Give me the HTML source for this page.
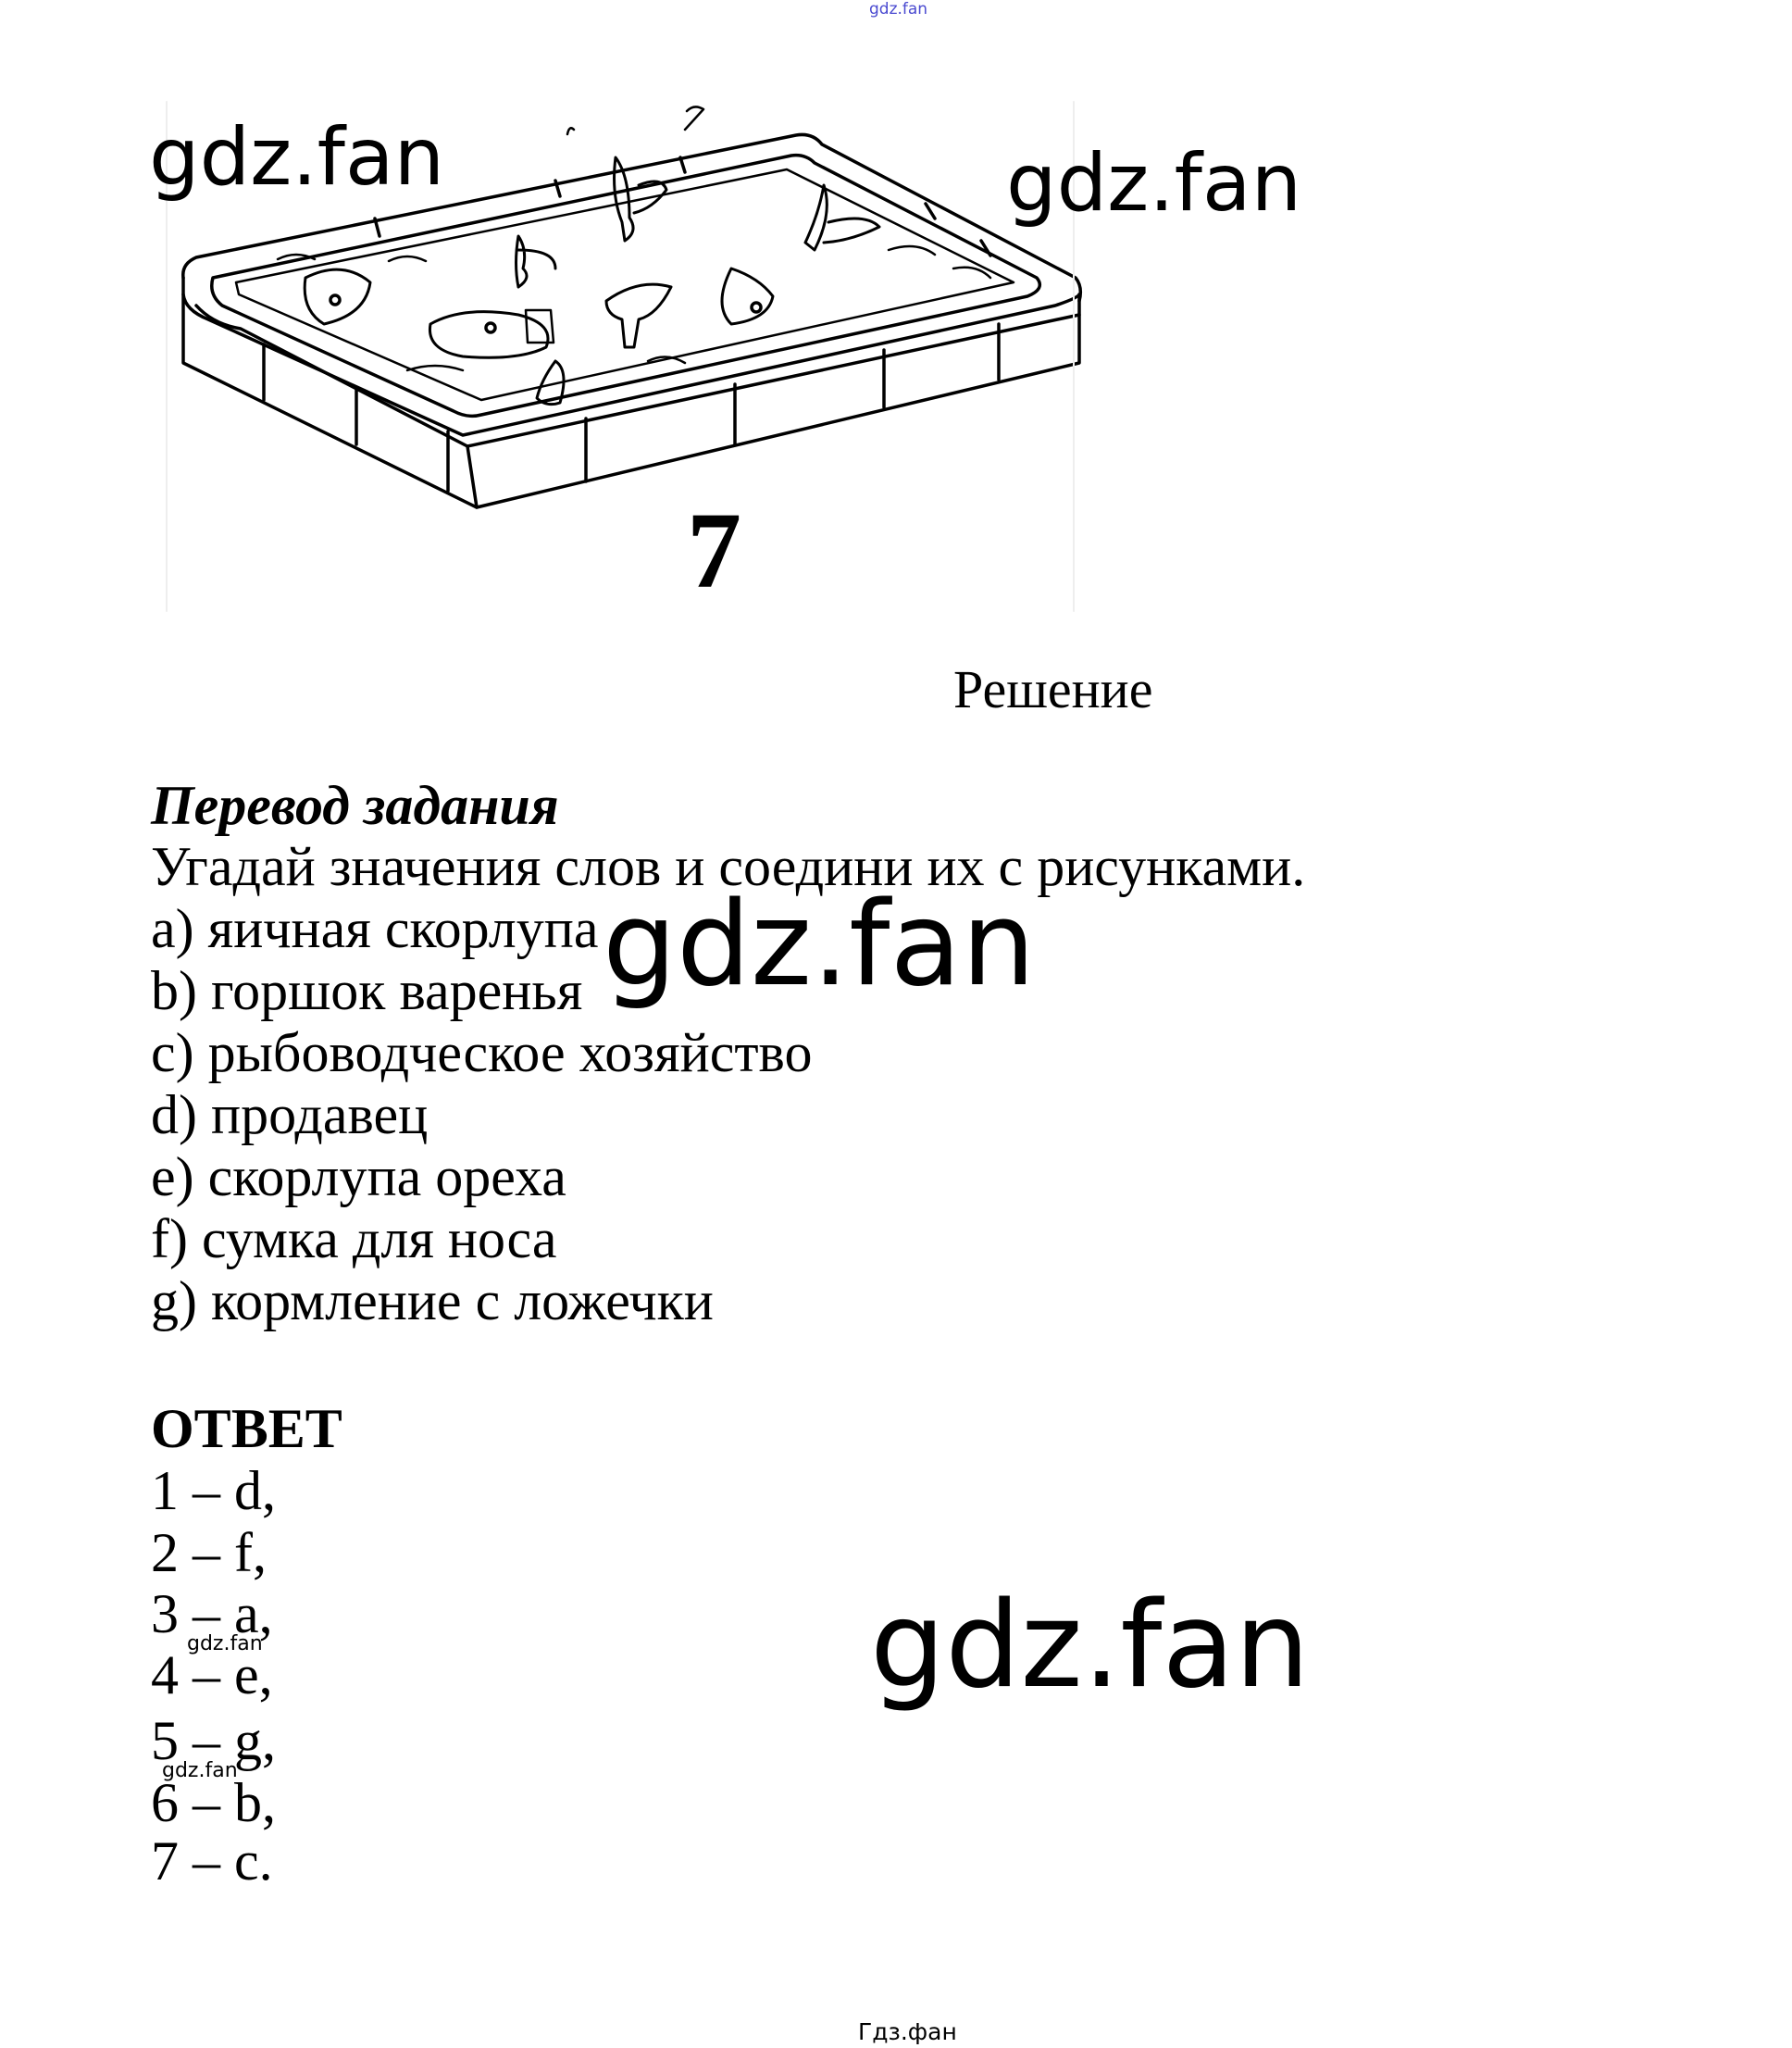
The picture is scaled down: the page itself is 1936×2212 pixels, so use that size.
<!DOCTYPE html>
<html><head><meta charset="utf-8"><style>
html,body{margin:0;padding:0;background:#fff;}
body{width:1936px;height:2212px;position:relative;overflow:hidden;}
.t{position:absolute;white-space:nowrap;line-height:1;}
.w{font-family:"DejaVu Sans",sans-serif;color:#000;}
.s{font-family:"Liberation Serif",serif;color:#000;font-size:60px;}
</style></head><body>
<div class="t w" style="left:939px;top:2px;font-size:17px;color:#4a4ad0;">gdz.fan</div>
<svg style="position:absolute;left:0;top:0" width="1936" height="700" fill="none" stroke="#000" stroke-width="3.5" stroke-linejoin="round" stroke-linecap="round">
 <path d="M198,300 Q196,285 212,278 L860,146 Q878,143 888,156 L1162,300 Q1170,310 1166,325"/>
 <path d="M198,300 L198,392 L515,548 L1166,392 L1166,318"/>
 <path d="M198,318 Q200,335 225,345 L500,470 L1140,330 Q1164,322 1166,318"/>
 <path d="M212,330 Q230,350 260,355 L505,482 L1166,340"/>
 <path d="M505,482 L515,548"/>
 <path d="M230,300 L855,168 Q870,166 880,176 L1120,300 Q1130,312 1110,320 L520,448 Q505,452 490,444 L240,330 Q225,318 230,300 Z"/>
 <path d="M255,305 L850,183 L1095,305 L520,432 L258,318 Z" stroke-width="2.5"/>
 <path d="M285,372 L285,432 M385,420 L385,480 M484,466 L484,530 M633,452 L633,520 M794,415 L794,480 M955,378 L955,440 M1079,350 L1079,410"/>
 <path d="M405,236 L410,255 M600,195 L605,212 M735,170 L740,186 M1000,220 L1010,236 M1060,260 L1070,276"/>
 <path d="M330,300 Q370,280 400,305 Q395,340 350,350 Q325,335 330,300 Z" stroke-width="3"/>
 <circle cx="362" cy="324" r="5"/>
 <path d="M465,350 Q500,330 560,340 Q600,350 590,375 Q560,390 500,385 Q460,378 465,350 Z" stroke-width="3"/>
 <circle cx="530" cy="354" r="5"/>
 <path d="M568,335 L595,335 L598,370 L570,370 Z" stroke-width="2.5"/>
 <path d="M790,290 Q770,330 790,350 Q830,345 835,320 Q820,300 790,290 Z" stroke-width="3"/>
 <circle cx="817" cy="332" r="5"/>
 <path d="M655,325 Q690,300 725,310 Q710,340 690,345 L685,375 L675,375 L672,345 Q655,340 655,325 Z" stroke-width="3"/>
 <path d="M665,170 Q680,190 680,235 Q690,250 675,260 L672,240 Q660,210 665,170 Z" stroke-width="3"/>
 <path d="M690,200 Q715,190 720,205 Q705,225 685,230" stroke-width="3"/>
 <path d="M890,200 Q900,230 880,270 L870,262 Q885,230 890,200 Z" stroke-width="3"/>
 <path d="M895,240 Q935,230 950,245 Q920,260 890,262" stroke-width="3"/>
 <path d="M560,255 Q570,270 565,290 Q575,300 560,310 Q555,285 560,255 Z M560,270 Q600,270 600,290" stroke-width="3"/>
 <path d="M600,390 Q615,400 605,435 Q590,440 580,430 Q585,410 600,390 Z" stroke-width="3"/>
 <path d="M613,145 Q615,135 620,140 M742,120 Q750,112 760,118 L740,140" stroke-width="2.5"/>
 <path d="M300,280 Q320,270 340,280 M420,282 Q440,272 460,282 M960,270 Q990,260 1010,275 M1030,290 Q1055,285 1070,300 M440,400 Q470,390 500,400 M700,390 Q720,380 740,392" stroke-width="2.5"/>
 <path d="M180,110 L180,660 M1160,110 L1160,660" stroke="#eee" stroke-width="2"/>
</svg>
<div class="t w" style="left:161px;top:127px;font-size:86px;">gdz.fan</div>
<div class="t w" style="left:1087px;top:155px;font-size:86px;">gdz.fan</div>
<div class="t" style="left:742px;top:536px;font-family:'Liberation Serif',serif;font-weight:bold;font-size:118px;">7</div>
<div class="t s" style="left:1030px;top:716px;font-size:58px;">Решение</div>
<div class="t s" style="left:163px;top:840px;font-weight:bold;font-style:italic;">Перевод задания</div>
<div class="t s" style="left:163px;top:906px;">Угадай значения слов и соедини их с рисунками.</div>
<div class="t s" style="left:163px;top:973px;">a) яичная скорлупа</div>
<div class="t s" style="left:163px;top:1040px;">b) горшок варенья</div>
<div class="t s" style="left:163px;top:1107px;">c) рыбоводческое хозяйство</div>
<div class="t s" style="left:163px;top:1174px;">d) продавец</div>
<div class="t s" style="left:163px;top:1241px;">e) скорлупа ореха</div>
<div class="t s" style="left:163px;top:1308px;">f) сумка для носа</div>
<div class="t s" style="left:163px;top:1375px;">g) кормление с ложечки</div>
<div class="t s" style="left:163px;top:1513px;font-weight:bold;">ОТВЕТ</div>
<div class="t s" style="left:163px;top:1580px;">1 – d,</div>
<div class="t s" style="left:163px;top:1647px;">2 – f,</div>
<div class="t s" style="left:163px;top:1713px;">3 – a,</div>
<div class="t s" style="left:163px;top:1779px;">4 – e,</div>
<div class="t s" style="left:163px;top:1850px;">5 – g,</div>
<div class="t s" style="left:163px;top:1917px;">6 – b,</div>
<div class="t s" style="left:163px;top:1980px;">7 – c.</div>
<div class="t w" style="left:651px;top:957px;font-size:126px;">gdz.fan</div>
<div class="t w" style="left:940px;top:1714px;font-size:128px;">gdz.fan</div>
<div class="t w" style="left:202px;top:1765px;font-size:22px;">gdz.fan</div>
<div class="t w" style="left:175px;top:1902px;font-size:22px;">gdz.fan</div>
<div class="t w" style="left:927px;top:2182px;font-size:25px;">Гдз.фан</div>
</body></html>
